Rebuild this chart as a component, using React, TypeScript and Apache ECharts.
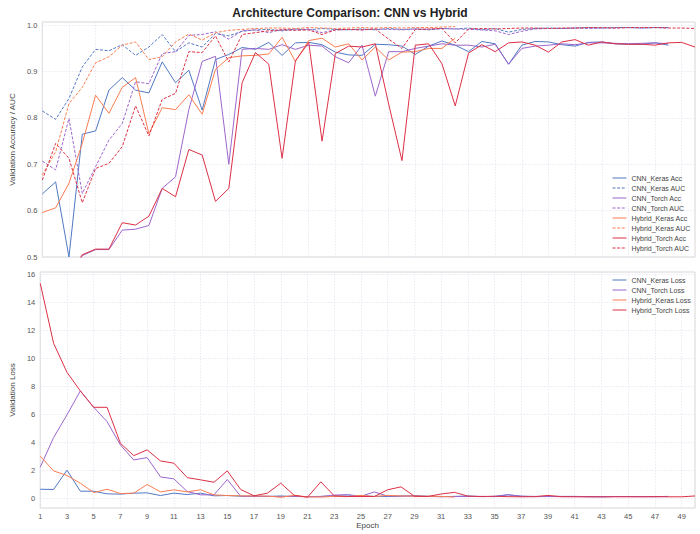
import React, { useEffect, useRef } from 'react';
import * as echarts from 'echarts';

// x axis ticks (epochs)
const epochTicks = [1, 3, 5, 7, 9, 11, 13, 15, 17, 19, 21, 23, 25, 27, 29, 31, 33, 35, 37, 39, 41, 43, 45, 47, 49];
const accTicks = [0.5, 0.6, 0.7, 0.8, 0.9, 1.0];
const lossTicks = [0, 2, 4, 6, 8, 10, 12, 14, 16];

// validation accuracy / AUC per epoch
const cnnKerasAcc = [0.636, 0.662, 0.5, 0.765, 0.772, 0.86, 0.887, 0.86, 0.854, 0.921, 0.876, 0.903, 0.817, 0.926, 0.937, 0.952, 0.948, 0.963, 0.935, 0.962, 0.963, 0.958, 0.942, 0.936, 0.935, 0.959, 0.958, 0.955, 0.937, 0.955, 0.966, 0.957, 0.943, 0.965, 0.96, 0.916, 0.957, 0.965, 0.964, 0.958, 0.955, 0.963, 0.964, 0.96, 0.959, 0.959, 0.962, 0.957];
const cnnKerasAuc = [0.815, 0.797, 0.842, 0.91, 0.948, 0.945, 0.958, 0.935, 0.953, 0.98, 0.943, 0.962, 0.953, 0.982, 0.977, 0.987, 0.99, 0.991, 0.988, 0.992, 0.99, 0.993, 0.991, 0.99, 0.992, 0.99, 0.993, 0.991, 0.992, 0.99, 0.993, 0.992, 0.994, 0.99, 0.993, 0.985, 0.991, 0.993, 0.994, 0.993, 0.994, 0.995, 0.994, 0.995, 0.995, 0.994, 0.995, 0.995];
const cnnTorchAcc = [0.42, 0.44, 0.45, 0.503, 0.516, 0.516, 0.558, 0.56, 0.568, 0.648, 0.673, 0.818, 0.922, 0.933, 0.7, 0.948, 0.95, 0.948, 0.958, 0.948, 0.957, 0.955, 0.932, 0.919, 0.957, 0.847, 0.943, 0.943, 0.95, 0.955, 0.96, 0.957, 0.957, 0.953, 0.959, 0.916, 0.95, 0.955, 0.957, 0.96, 0.958, 0.962, 0.962, 0.961, 0.96, 0.961, 0.962, 0.96];
const cnnTorchAuc = [0.707, 0.688, 0.799, 0.637, 0.695, 0.752, 0.788, 0.878, 0.874, 0.939, 0.943, 0.978, 0.98, 0.986, 0.97, 0.988, 0.99, 0.984, 0.991, 0.99, 0.992, 0.984, 0.99, 0.991, 0.99, 0.992, 0.991, 0.99, 0.992, 0.991, 0.993, 0.992, 0.991, 0.99, 0.988, 0.98, 0.987, 0.992, 0.993, 0.993, 0.994, 0.993, 0.994, 0.994, 0.995, 0.994, 0.995, 0.994];
const hybridKerasAcc = [0.596, 0.606, 0.659, 0.745, 0.849, 0.81, 0.866, 0.887, 0.766, 0.822, 0.818, 0.85, 0.808, 0.905, 0.93, 0.934, 0.935, 0.938, 0.974, 0.922, 0.967, 0.972, 0.953, 0.96, 0.925, 0.953, 0.925, 0.942, 0.943, 0.95, 0.95, 0.972];
const hybridKerasAuc = [0.677, 0.727, 0.831, 0.866, 0.919, 0.932, 0.957, 0.964, 0.926, 0.932, 0.964, 0.981, 0.968, 0.984, 0.989, 0.991, 0.993, 0.994, 0.994, 0.993, 0.995, 0.994, 0.993, 0.994, 0.995, 0.994, 0.995, 0.994, 0.995, 0.995, 0.996, 0.997];
const hybridTorchAcc = [0.4, 0.42, 0.46, 0.505, 0.517, 0.517, 0.574, 0.569, 0.588, 0.648, 0.63, 0.732, 0.72, 0.62, 0.648, 0.876, 0.941, 0.916, 0.713, 0.923, 0.963, 0.75, 0.939, 0.955, 0.953, 0.96, 0.83, 0.708, 0.957, 0.96, 0.917, 0.826, 0.94, 0.958, 0.943, 0.962, 0.964, 0.957, 0.942, 0.964, 0.969, 0.957, 0.964, 0.96, 0.959, 0.959, 0.957, 0.962, 0.963, 0.953];
const hybridTorchAuc = [0.666, 0.745, 0.713, 0.617, 0.691, 0.702, 0.738, 0.826, 0.761, 0.84, 0.853, 0.943, 0.941, 0.977, 0.921, 0.98, 0.984, 0.988, 0.99, 0.989, 0.99, 0.98, 0.99, 0.991, 0.99, 0.992, 0.97, 0.95, 0.991, 0.992, 0.993, 0.962, 0.992, 0.993, 0.992, 0.993, 0.994, 0.994, 0.993, 0.994, 0.994, 0.995, 0.995, 0.994, 0.995, 0.995, 0.995, 0.994, 0.994, 0.993];

// validation loss per epoch
const cnnKerasLoss = [0.64, 0.62, 2.0, 0.5, 0.5, 0.31, 0.29, 0.36, 0.38, 0.19, 0.36, 0.26, 0.36, 0.17, 0.19, 0.14, 0.15, 0.12, 0.16, 0.12, 0.11, 0.13, 0.15, 0.16, 0.17, 0.13, 0.12, 0.14, 0.18, 0.14, 0.11, 0.13, 0.16, 0.11, 0.13, 0.25, 0.14, 0.11, 0.12, 0.13, 0.13, 0.11, 0.11, 0.12, 0.12, 0.12, 0.11, 0.13];
const cnnTorchLoss = [2.21, 4.33, 5.95, 7.66, 6.49, 5.47, 3.8, 2.73, 2.9, 1.52, 1.38, 0.48, 0.24, 0.24, 1.33, 0.14, 0.12, 0.14, 0.11, 0.13, 0.11, 0.12, 0.22, 0.26, 0.13, 0.45, 0.15, 0.16, 0.14, 0.12, 0.11, 0.12, 0.12, 0.13, 0.11, 0.24, 0.14, 0.13, 0.12, 0.11, 0.12, 0.11, 0.11, 0.12, 0.12, 0.11, 0.11, 0.12];
const hybridKerasLoss = [3.0, 1.95, 1.62, 1.07, 0.4, 0.64, 0.33, 0.36, 0.98, 0.45, 0.6, 0.45, 0.6, 0.24, 0.19, 0.17, 0.16, 0.15, 0.07, 0.2, 0.09, 0.08, 0.13, 0.11, 0.2, 0.12, 0.2, 0.16, 0.15, 0.14, 0.13, 0.08];
const hybridTorchLoss = [15.34, 11.06, 8.99, 7.66, 6.49, 6.49, 3.92, 3.04, 3.45, 2.66, 2.5, 1.47, 1.31, 1.14, 1.95, 0.62, 0.17, 0.36, 1.07, 0.21, 0.07, 1.17, 0.17, 0.12, 0.12, 0.12, 0.6, 0.81, 0.14, 0.12, 0.3, 0.42, 0.15, 0.12, 0.14, 0.11, 0.1, 0.11, 0.2, 0.11, 0.1, 0.1, 0.09, 0.1, 0.1, 0.1, 0.11, 0.1, 0.1, 0.16];

const COLORS = {
  cnnKeras: '#5179c4',
  cnnTorch: '#9c66cc',
  hybridKeras: '#fa7d52',
  hybridTorch: '#dc3046',
};

const FONT = 'Liberation Sans, Arial, sans-serif';

const makeSeries = (name: string, values: number[], color: string, dashed: boolean, axis: number) => ({
  name,
  type: 'line',
  xAxisIndex: axis,
  yAxisIndex: axis,
  symbol: 'none',
  clip: true,
  data: values.map((v, i) => [i + 1, v]),
  lineStyle: { color, width: 1, type: dashed ? [3, 1.6] : 'solid' },
  itemStyle: { color },
});

const gridLine = { show: true, lineStyle: { color: '#e8e2f0', type: [1.5, 1.5], width: 0.8 } };
const labelStyle = { color: '#555', fontSize: 7.5, fontFamily: FONT };

const App: React.FC = () => {
  const ref = useRef<HTMLDivElement>(null);

  useEffect(() => {
    if (!ref.current) return;
    const chart = echarts.init(ref.current, null, { renderer: 'svg' });

    const accSeries = [
      makeSeries('CNN_Keras Acc', cnnKerasAcc, COLORS.cnnKeras, false, 0),
      makeSeries('CNN_Keras AUC', cnnKerasAuc, COLORS.cnnKeras, true, 0),
      makeSeries('CNN_Torch Acc', cnnTorchAcc, COLORS.cnnTorch, false, 0),
      makeSeries('CNN_Torch AUC', cnnTorchAuc, COLORS.cnnTorch, true, 0),
      makeSeries('Hybrid_Keras Acc', hybridKerasAcc, COLORS.hybridKeras, false, 0),
      makeSeries('Hybrid_Keras AUC', hybridKerasAuc, COLORS.hybridKeras, true, 0),
      makeSeries('Hybrid_Torch Acc', hybridTorchAcc, COLORS.hybridTorch, false, 0),
      makeSeries('Hybrid_Torch AUC', hybridTorchAuc, COLORS.hybridTorch, true, 0),
    ];
    const lossSeries = [
      makeSeries('CNN_Keras Loss', cnnKerasLoss, COLORS.cnnKeras, false, 1),
      makeSeries('CNN_Torch Loss', cnnTorchLoss, COLORS.cnnTorch, false, 1),
      makeSeries('Hybrid_Keras Loss', hybridKerasLoss, COLORS.hybridKeras, false, 1),
      makeSeries('Hybrid_Torch Loss', hybridTorchLoss, COLORS.hybridTorch, false, 1),
    ];

    const legendBase = {
      orient: 'vertical',
      left: 612,
      padding: 0,
      itemWidth: 14,
      itemHeight: 8,
      itemGap: 2,
      itemStyle: { opacity: 0, borderWidth: 0 },
      lineStyle: { width: 1 },
      textStyle: { color: '#444', fontSize: 7, fontFamily: FONT, lineHeight: 8 },
    };

    const option: any = {
      animation: false,
      backgroundColor: '#fff',
      textStyle: { fontFamily: FONT },
      title: {
        text: 'Architecture Comparison: CNN vs Hybrid',
        left: 'center',
        top: 2,
        textStyle: { fontSize: 12, fontWeight: 'bold', color: '#222', fontFamily: FONT },
      },
      legend: [
        { ...legendBase, top: 174, data: accSeries.map(s => s.name) },
        { ...legendBase, top: 276, data: lossSeries.map(s => s.name) },
      ],
      grid: [
        { left: 29, right: 5, top: 22, height: 235, show: true, borderColor: '#d6d6d6', borderWidth: 1 },
        { left: 29, right: 5, top: 272, height: 236, show: true, borderColor: '#d6d6d6', borderWidth: 1 },
      ],
      xAxis: [
        {
          type: 'value', gridIndex: 0, min: 1, max: 50,
          axisLine: { show: false },
          axisTick: { show: false, customValues: epochTicks },
          axisLabel: { show: false, customValues: epochTicks },
          splitLine: gridLine,
        },
        {
          type: 'value', gridIndex: 1, min: 1, max: 50,
          name: 'Epoch', nameLocation: 'middle', nameGap: 13,
          nameTextStyle: { color: '#444', fontSize: 8, fontFamily: FONT },
          axisLine: { show: false },
          axisTick: { show: false, customValues: epochTicks },
          axisLabel: { ...labelStyle, margin: 4, customValues: epochTicks },
          splitLine: gridLine,
        },
      ],
      yAxis: [
        {
          type: 'value', gridIndex: 0, min: 0.5, max: 1.007,
          name: 'Validation Accuracy / AUC', nameLocation: 'middle', nameGap: 24,
          nameTextStyle: { color: '#444', fontSize: 8, fontFamily: FONT },
          axisLine: { show: false },
          axisTick: { show: false, customValues: accTicks },
          axisLabel: { ...labelStyle, margin: 5, customValues: accTicks, formatter: (v: number) => v.toFixed(1) },
          splitLine: gridLine,
        },
        {
          type: 'value', gridIndex: 1, min: -0.7, max: 16.15,
          name: 'Validation Loss', nameLocation: 'middle', nameGap: 24,
          nameTextStyle: { color: '#444', fontSize: 8, fontFamily: FONT },
          axisLine: { show: false },
          axisTick: { show: false, customValues: lossTicks },
          axisLabel: { ...labelStyle, margin: 5, customValues: lossTicks, formatter: (v: number) => String(Math.round(v)) },
          splitLine: gridLine,
        },
      ],
      series: [...accSeries, ...lossSeries],
    };

    chart.setOption(option);
    return () => {
      chart.dispose();
    };
  }, []);

  return <div ref={ref} style={{ position: 'fixed', left: 0, top: 0, width: 700, height: 534 }} />;
};

export default App;
